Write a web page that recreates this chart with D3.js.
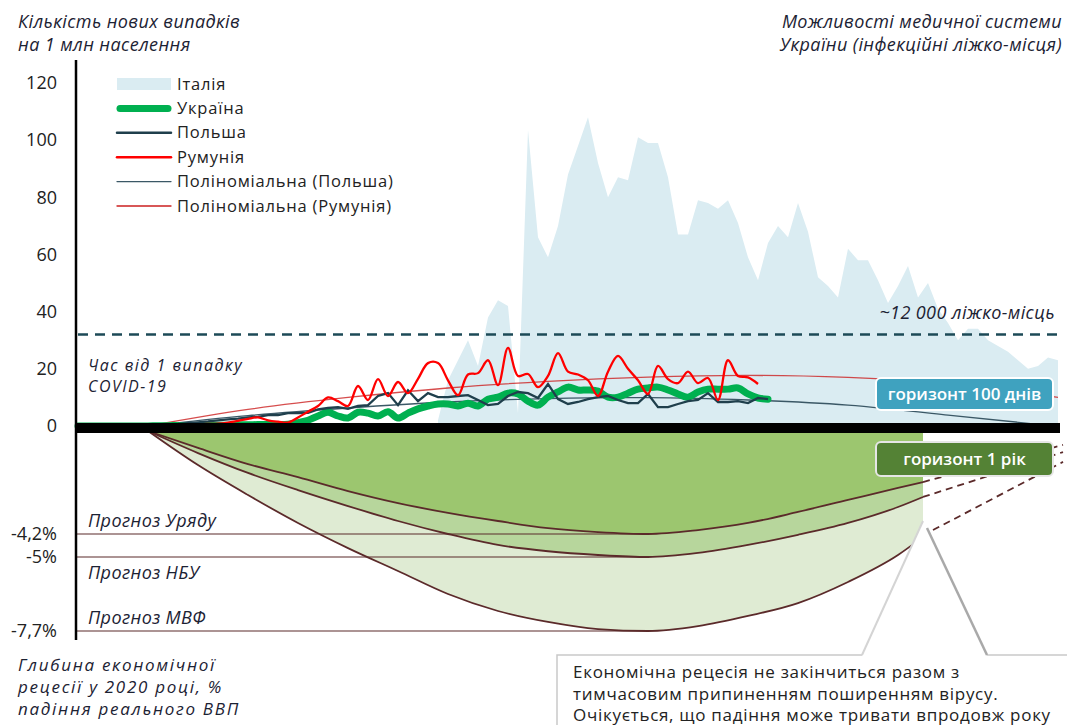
<!DOCTYPE html>
<html>
<head>
<meta charset="utf-8">
<title>COVID-19 та рецесія</title>
<script src="https://d3js.org/d3.v7.min.js"></script>
<style>
    body { margin: 0; background: #fff; }
    svg { display: block; font-family: "Open Sans", sans-serif; }
    .ital { font-style: italic; fill: #1c2233; letter-spacing: 0.4px; }
    .tick text { font-size: 18px; fill: #222; font-family: "Open Sans", sans-serif; }
</style>
</head>
<body>
<svg width="1067" height="725"></svg>
<script>
// ---- data ----
// days since first case; Ukraine / Poland / Romania start at day 0
var ukraine = [0,0,0,0,0,0,0,0, 0.1,0.1,0.2,0.2,0.2,0.3,0.3,0.3,0.4,0.4,0.5,0.5,0.5,
    0.6,1.2,2,3.5,4.8,3.5,2.8,4.8,4.5,3.5,5,2.8,4.5,6,7,7.7,7.7,7,8,7,9.4,10.1,11.5,11.2,
    8.7,7.3,10.1,11.9,13.6,12.6,12.6,12.2,10.1,10.1,11.5,12.9,13.3,13.6,12.6,11.2,10.1,
    11.9,12.9,12.9,12.9,13.3,11.2,9.8,9.4];
var poland = [0,0,0,0,0,0,0,0, 0.3,0.5,0.7,1,1.3,1.6,2,2.3,2.6,3,3.2,3.8,3.8,4.5,4.5,4.6,
    5.8,6.3,6.6,6,7,7.3,10.5,11.5,7.3,12.5,8.7,11.5,10.1,10.1,10.5,10.8,9.1,7.3,7.7,10.5,
    11.9,11.5,9.8,14.7,9.4,7.7,8.4,9.4,10.1,10.5,9.1,8,8,11.2,6.6,6.6,7.7,8.7,9.1,11.5,
    8.4,8.4,8.7,8,9.8,9.4];
var romania = [0,0,0,0,0,0,0,0, 0.2,0.3,0.4,0.5,0.6,0.7,0.8,1.2,1.8,2.5,3,2,1.5,1.2,3,5,7,
    10,8.7,7,14,9.1,16.4,10.5,15.4,11.5,16.5,22,22,16,10.8,18,18.5,23,14.3,27.3,17.5,18.2,
    13.6,17.5,25.5,19,18,16,10.5,19,24.5,20,16,11.2,21,16.4,15,19,15,16.8,9.1,23,17.5,17,14.7];
// Italy starts at day 36
var italyStart = 36;
var italy = [2,16,23,30,21,38,44,42,4.5,103.6,66,59,70,88,98,108,92,80,87,86,101,99,99,87,
    67,67,79,78,76,79,71,59,51,64,70,66,78,68,52,49,45,62,58,58,51,43,49,56,45,50,41,36,30,
    34,34,30,28,26,23,20,21,24,23];
// polynomial trends, sampled
var trendDays = [7, 17, 27, 37, 47, 57, 67, 77, 87, 98];
var trendRomania = [0, 5.8, 10, 13.3, 15.6, 17.1, 17.7, 17, 14.8, 10];
var trendPolandDays = [7, 17, 27, 37, 47, 57, 67, 77, 87, 96];
var trendPoland = [0, 3.6, 6.3, 8.4, 9.6, 9.9, 9.1, 7.3, 3.8, 0.6];
var bedsLevel = 32;   // ~12 000 beds

// GDP recession paths (%), lower panel
var econDays = [7,12,17,22,27,32,37,42,47,52,57,62,67,72,77,82,84.5];
var govPath = [0,-0.69,-1.35,-1.88,-2.45,-2.94,-3.34,-3.67,-3.96,-4.12,-4.2,-4.04,-3.75,-3.3,-2.81,-2.32,-2.08];
var nbuPath = [0,-0.9,-1.71,-2.41,-3.06,-3.67,-4.2,-4.58,-4.8,-4.93,-5,-4.86,-4.58,-4.23,-3.75,-3.1,-2.69];
var imfPath = [0,-1.39,-2.61,-3.75,-4.69,-5.51,-6.35,-6.97,-7.37,-7.63,-7.7,-7.52,-7.15,-6.68,-5.91,-4.93,-4.3];
var extGov = [[84.5, -2.08], [98.5, -0.57]];
var extNbu = [[84.5, -2.69], [98.5, -0.86]];
var extImf = [[85.5, -4.04], [98.5, -1.26]];
var forecasts = [
    {name: "Прогноз Уряду", value: -4.2, label: "-4,2%"},
    {name: "Прогноз НБУ", value: -5, label: "-5%"},
    {name: "Прогноз МВФ", value: -7.7, label: "-7,7%"}
];
var topTicks = [0, 20, 40, 60, 80, 100, 120];

var legendItems = [
    {name: "Італія", type: "area", color: "#daecf2"},
    {name: "Україна", type: "line", color: "#00b050", w: 7},
    {name: "Польша", type: "line", color: "#1f3f4c", w: 2.5},
    {name: "Румунія", type: "line", color: "#ff0000", w: 2.5},
    {name: "Поліноміальна (Польша)", type: "line", color: "#3b5866", w: 1.3},
    {name: "Поліноміальна (Румунія)", type: "line", color: "#cc2020", w: 1.3}
];

// ---- scales ----
var svg = d3.select("svg");
var x = d3.scaleLinear().domain([0, 98]).range([78, 1058]);
var yTop = d3.scaleLinear().domain([0, 120]).range([426, 83]);
var yBot = d3.scaleLinear().domain([0, -4.2, -5, -7.7]).range([431, 534, 557, 631]);
var brown = "#5b2a2a";

// ---- lower panel: recession ----
function zipPath(days, vals) { return days.map(function(d, i) { return [d, vals[i]]; }); }
function bandArea(upper, lower) {
    return d3.area().curve(d3.curveMonotoneX)
        .x(function(d, i) { return x(econDays[i]); })
        .y0(function(d, i) { return yBot(upper[i]); })
        .y1(function(d, i) { return yBot(lower[i]); })(econDays);
}
var zeros = econDays.map(function() { return 0; });
svg.append("path").attr("d", bandArea(nbuPath, imfPath)).attr("fill", "#dfebd3");
svg.append("path").attr("d", bandArea(govPath, nbuPath)).attr("fill", "#b7d69c");
svg.append("path").attr("d", bandArea(zeros, govPath)).attr("fill", "#9cc66f");

var econLine = d3.line().curve(d3.curveMonotoneX)
    .x(function(d) { return x(d[0]); }).y(function(d) { return yBot(d[1]); });

forecasts.forEach(function(f) {
    svg.append("line").attr("x1", 76).attr("x2", x(57))
        .attr("y1", yBot(f.value)).attr("y2", yBot(f.value))
        .attr("stroke", brown).attr("stroke-width", 1.2);
});
[govPath, nbuPath, imfPath].forEach(function(p) {
    svg.append("path").attr("d", econLine(zipPath(econDays, p)))
        .attr("fill", "none").attr("stroke", brown).attr("stroke-width", 1.8);
});
[extGov, extNbu, extImf].forEach(function(p) {
    svg.append("path").attr("d", econLine(p))
        .attr("fill", "none").attr("stroke", brown).attr("stroke-width", 1.8)
        .attr("stroke-dasharray", "7,5");
});

// ---- upper panel: new cases ----
var italyArea = d3.area()
    .x(function(d, i) { return x(italyStart + i); })
    .y0(yTop(0)).y1(function(d) { return yTop(d); });
svg.append("path").attr("d", italyArea(italy)).attr("fill", "#daecf2");

svg.append("line").attr("x1", 78).attr("x2", 1058)
    .attr("y1", yTop(bedsLevel)).attr("y2", yTop(bedsLevel))
    .attr("stroke", "#1d4a57").attr("stroke-width", 2.6).attr("stroke-dasharray", "10,7");

var smooth = d3.line().curve(d3.curveNatural)
    .x(function(d) { return x(d[0]); }).y(function(d) { return yTop(d[1]); });
svg.append("path").attr("d", smooth(zipPath(trendPolandDays, trendPoland)))
    .attr("fill", "none").attr("stroke", "#3b5866").attr("stroke-width", 1.3);
svg.append("path").attr("d", smooth(zipPath(trendDays, trendRomania)))
    .attr("fill", "none").attr("stroke", "#cc2020").attr("stroke-opacity", 0.8).attr("stroke-width", 1.3);

var seriesLine = function(curve) {
    return d3.line().curve(curve)
        .x(function(d, i) { return x(i); }).y(function(d) { return yTop(d); });
};
svg.append("path").attr("d", seriesLine(d3.curveCatmullRom)(ukraine))
    .attr("fill", "none").attr("stroke", "#00b050").attr("stroke-width", 7)
    .attr("stroke-linejoin", "round").attr("stroke-linecap", "round");
svg.append("path").attr("d", seriesLine(d3.curveLinear)(poland))
    .attr("fill", "none").attr("stroke", "#1f3f4c").attr("stroke-width", 2.3);
svg.append("path").attr("d", seriesLine(d3.curveCatmullRom)(romania))
    .attr("fill", "none").attr("stroke", "#ff0000").attr("stroke-width", 2.3);

// thick zero bar
svg.append("rect").attr("x", 76).attr("y", 423).attr("width", 984).attr("height", 10).attr("fill", "#000");

// vertical axis
svg.append("line").attr("x1", 76).attr("x2", 76).attr("y1", 60).attr("y2", 640)
    .attr("stroke", "#000").attr("stroke-width", 2.5);

var axTop = svg.append("g").attr("transform", "translate(76,0)")
    .call(d3.axisLeft(yTop).tickValues(topTicks).tickSize(0).tickPadding(19));
axTop.select(".domain").remove();

var axBot = svg.append("g").attr("transform", "translate(76,0)")
    .call(d3.axisLeft(yBot).tickValues(forecasts.map(function(f) { return f.value; }))
        .tickFormat(function(d) { return forecasts.find(function(f) { return f.value === d; }).label; })
        .tickSize(0).tickPadding(19));
axBot.select(".domain").remove();

// ---- texts ----
function textLines(lines, x0, y0, dy, cls, anchor, size, spacing) {
    lines.forEach(function(t, i) {
        var el = svg.append("text").attr("class", cls).attr("x", x0).attr("y", y0 + i * dy)
            .attr("text-anchor", anchor || "start").attr("font-size", size || 18).text(t);
        if (spacing !== undefined) el.style("letter-spacing", spacing + "px");
    });
}
textLines(["Кількість нових випадків", "на 1 млн населення"], 18, 28, 23, "ital");
textLines(["Можливості медичної системи", "України (інфекційні ліжко-місця)"], 1062, 28, 23, "ital", "end");
textLines(["Час від 1 випадку", "COVID-19"], 88, 371, 21, "ital", "start", 16, 1.5);
textLines(["~12 000 ліжко-місць"], 1055, 319, 0, "ital", "end");
textLines(["Глибина економічної", "рецесії у 2020 році, %", "падіння реального ВВП"], 18, 671, 22, "ital", "start", 17, 1.7);
forecasts.forEach(function(f, i) {
    var yy = f.value === -5 ? yBot(f.value) + 22 : yBot(f.value) - 7;
    svg.append("text").attr("class", "ital").attr("x", 88).attr("y", yy)
        .attr("font-size", 18).text(f.name);
});

// legend
var leg = svg.append("g").attr("transform", "translate(117,84)");
legendItems.forEach(function(d, i) {
    var g = leg.append("g").attr("transform", "translate(0," + (i * 24.4) + ")");
    if (d.type === "area") {
        g.append("rect").attr("x", 0).attr("y", -6).attr("width", 54).attr("height", 12).attr("fill", d.color);
    } else {
        g.append("line").attr("x1", d.w > 5 ? 3 : 0).attr("x2", d.w > 5 ? 51 : 54).attr("y1", 0).attr("y2", 0)
            .attr("stroke", d.color).attr("stroke-width", d.w).attr("stroke-linecap", "round");
    }
    g.append("text").attr("x", 60).attr("y", 5.5).attr("font-size", 16.5).attr("fill", "#222")
        .style("letter-spacing", "0.8px").text(d.name);
});

// horizon labels
function horizon(y0, h, fill, stroke, label) {
    svg.append("rect").attr("x", 876).attr("y", y0).attr("width", 177).attr("height", h)
        .attr("rx", 5).attr("fill", fill).attr("stroke", stroke).attr("stroke-width", 2);
    svg.append("text").attr("x", 964.5).attr("y", y0 + h / 2 + 6).attr("text-anchor", "middle")
        .attr("font-size", 17).attr("font-weight", 600).attr("fill", "#fff").text(label);
}
horizon(378, 32, "#3fa2bf", "#fff", "горизонт 100 днів");
horizon(442, 34, "#548235", "#e6e6e6", "горизонт 1 рік");

// callout
svg.append("rect").attr("x", 557).attr("y", 655).attr("width", 530).attr("height", 90)
    .attr("fill", "#fff").attr("stroke", "#c9c9c9").attr("stroke-width", 1.5);
svg.append("path").attr("d", "M862,656 L923,521 L987,656 Z").attr("fill", "#fff");
svg.append("path").attr("d", "M862,655 L923,521").attr("stroke", "#d4d4d4").attr("stroke-width", 2);
svg.append("path").attr("d", "M927,528 L987,655").attr("stroke", "#a9a9a9").attr("stroke-width", 2.5);
textLines(["Економічна рецесія не закінчиться разом з",
    "тимчасовим припиненням поширенням вірусу.",
    "Очікується, що падіння може тривати впродовж року"], 573, 678, 21.5, "", "start", 17, 0.7);
svg.selectAll("text:not(.ital)").filter(function() { return !d3.select(this).attr("fill"); }).attr("fill", "#222");
</script>
</body>
</html>
